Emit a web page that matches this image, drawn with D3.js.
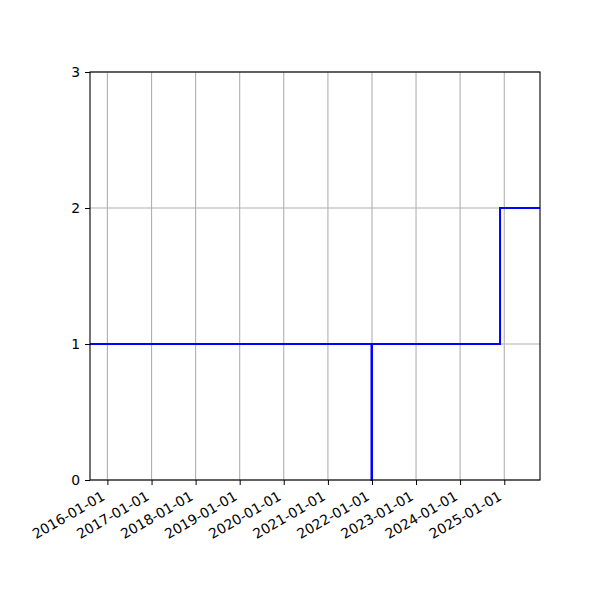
<!DOCTYPE html>
<html>
<head>
<meta charset="utf-8">
<script src="https://cdn.jsdelivr.net/npm/d3@7"></script>
<style>
  body { margin: 0; background: #fff; }
  text { font-family: "DejaVu Sans", sans-serif; }
</style>
</head>
<body>
<div id="chart"></div>
<script>
// step series (value holds until the next date)
var dates = ["2015-08-10", "2021-12-28", "2022-01-01", "2024-11-27", "2025-10-24"];
var values = [1, 0, 1, 2, 2];
var tickDates = ["2016-01-01", "2017-01-01", "2018-01-01", "2019-01-01", "2020-01-01",
  "2021-01-01", "2022-01-01", "2023-01-01", "2024-01-01", "2025-01-01"];
var yTicks = [0, 1, 2, 3];
var xDomain = ["2015-08-10", "2025-10-24"];

var margin = { top: 72, right: 60, bottom: 120, left: 90 },
  width = 600 - margin.left - margin.right,
  height = 600 - margin.top - margin.bottom;

var parse = d3.utcParse("%Y-%m-%d");
var fmt = d3.utcFormat("%Y-%m-%d");

var data = dates.map(function (d, i) {
  return { date: parse(d), value: values[i] };
});

var svg = d3
  .select("#chart")
  .append("svg")
  .attr("width", 600)
  .attr("height", 600)
  .append("g")
  .attr("transform", "translate(" + margin.left + "," + margin.top + ")");

var x = d3.scaleUtc().domain(xDomain.map(parse)).range([0, width]);
var y = d3.scaleLinear().domain([0, 3]).range([height, 0]);

// grid
svg
  .append("g")
  .selectAll("line")
  .data(tickDates.map(parse))
  .enter()
  .append("line")
  .attr("x1", function (d) { return x(d); })
  .attr("x2", function (d) { return x(d); })
  .attr("y1", 0)
  .attr("y2", height)
  .attr("stroke", "#b0b0b0")
  .attr("stroke-width", 1.1);

svg
  .append("g")
  .selectAll("line")
  .data(yTicks)
  .enter()
  .append("line")
  .attr("x1", 0)
  .attr("x2", width)
  .attr("y1", function (d) { return y(d); })
  .attr("y2", function (d) { return y(d); })
  .attr("stroke", "#b0b0b0")
  .attr("stroke-width", 1.1);

// step line
var line = d3
  .line()
  .curve(d3.curveStepAfter)
  .x(function (d) { return x(d.date); })
  .y(function (d) { return y(d.value); });

svg
  .append("path")
  .datum(data)
  .attr("d", line)
  .attr("fill", "none")
  .attr("stroke", "#0000ff")
  .attr("stroke-width", 2);

// axes
var xAxis = svg
  .append("g")
  .attr("transform", "translate(0," + height + ")")
  .call(
    d3.axisBottom(x)
      .tickValues(tickDates.map(parse))
      .tickFormat(fmt)
      .tickSize(5)
  );
xAxis.select(".domain").remove();
xAxis
  .selectAll("text")
  .style("font-size", "13.9px")
  .style("font-family", "DejaVu Sans")
  .style("text-anchor", "end")
  .attr("x", 0)
  .attr("y", 0)
  .attr("dy", 0)
  .attr("transform", "translate(-2,19) rotate(-30)");

var yAxis = svg
  .append("g")
  .call(d3.axisLeft(y).tickValues(yTicks).tickFormat(d3.format("d")).tickSize(5).tickPadding(5));
yAxis.select(".domain").remove();
yAxis.selectAll("text").style("font-size", "13.9px").style("font-family", "DejaVu Sans");

// frame
svg
  .append("rect")
  .attr("width", width)
  .attr("height", height)
  .attr("fill", "none")
  .attr("stroke", "#000")
  .attr("stroke-width", 1.1);
</script>
</body>
</html>
